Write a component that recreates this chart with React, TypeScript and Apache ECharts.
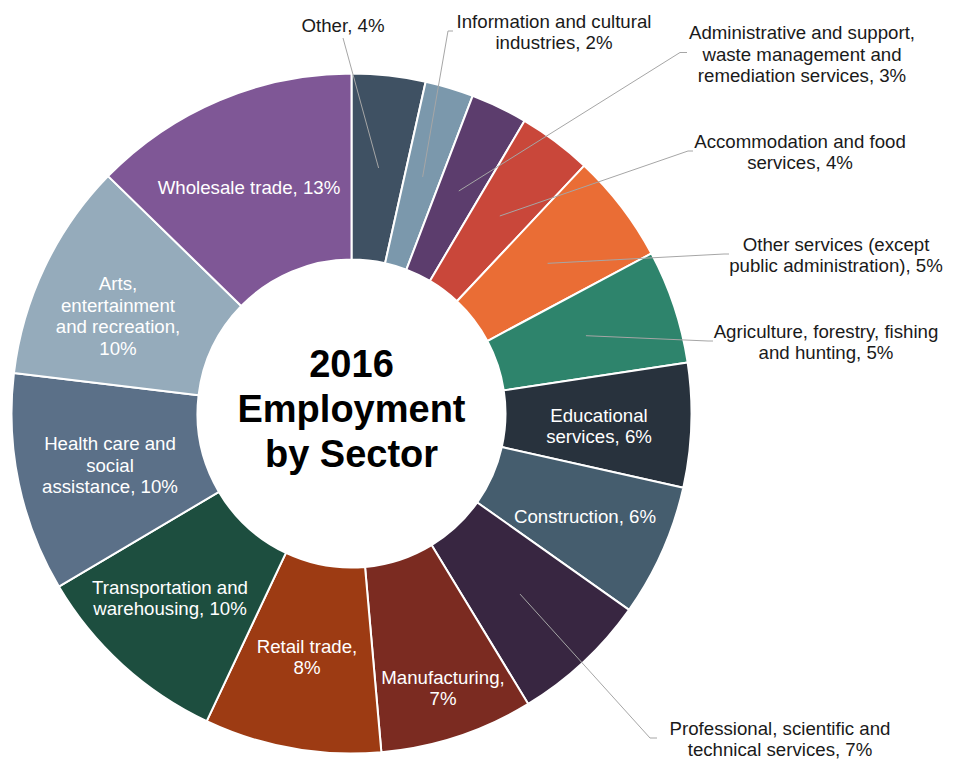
import React, { useEffect, useRef } from "react";
import * as echarts from "echarts";

// ---- data ----
const categories: string[] = [
  "Other",
  "Information and cultural industries",
  "Administrative and support, waste management and remediation services",
  "Accommodation and food services",
  "Other services (except public administration)",
  "Agriculture, forestry, fishing and hunting",
  "Educational services",
  "Construction",
  "Professional, scientific and technical services",
  "Manufacturing",
  "Retail trade",
  "Transportation and warehousing",
  "Health care and social assistance",
  "Arts, entertainment and recreation",
  "Wholesale trade",
];
const values: number[] = [3.5, 2.3, 2.7, 3.5, 5.2, 5.4, 5.9, 6.3, 6.5, 7.3, 8.4, 9.5, 10.4, 10.4, 12.7];

// label text with line breaks; {p} = rounded percent
const labelTemplates: string[] = [
  "Other, {p}%",
  "Information and cultural\nindustries, {p}%",
  "Administrative and support,\nwaste management and\nremediation services, {p}%",
  "Accommodation and food\nservices, {p}%",
  "Other services (except\npublic administration), {p}%",
  "Agriculture, forestry, fishing\nand hunting, {p}%",
  "Educational\nservices, {p}%",
  "Construction, {p}%",
  "Professional, scientific and\ntechnical services, {p}%",
  "Manufacturing,\n{p}%",
  "Retail trade,\n{p}%",
  "Transportation and\nwarehousing, {p}%",
  "Health care and\nsocial\nassistance, {p}%",
  "Arts,\nentertainment\nand recreation,\n{p}%",
  "Wholesale trade, {p}%",
];
const title = "2016\nEmployment\nby Sector";

// ---- styles / layout ----
const colors: string[] = [
  "#3F5163", "#7B98AC", "#5C3D6D", "#C9473A", "#EA6D35",
  "#2E846C", "#28323D", "#455D6E", "#382641", "#7B2B21",
  "#9D3B13", "#1D4E3F", "#5B7088", "#95ABBB", "#7F5796",
];
const outside: boolean[] = [true, true, true, true, true, true, false, false, true, false, false, false, false, false, false];
// label centres and leader-line end points (layout only)
const labelPos: { x: number; y: number; end?: number[][] }[] = [
  { x: 343, y: 25, end: [[343, 38], [343, 38]] },
  { x: 554, y: 32, end: [[448, 31], [453, 31]] },
  { x: 802, y: 54, end: [[680, 52.5], [687, 52.5]] },
  { x: 800, y: 152, end: [[688, 151], [693, 151]] },
  { x: 836, y: 255, end: [[724, 254], [729, 254]] },
  { x: 826, y: 342, end: [[708, 341], [713, 341]] },
  { x: 599, y: 426 },
  { x: 585, y: 516 },
  { x: 780, y: 739, end: [[650, 738], [657, 738]] },
  { x: 443, y: 688 },
  { x: 307, y: 657 },
  { x: 170, y: 598 },
  { x: 110, y: 465 },
  { x: 118, y: 316 },
  { x: 249, y: 187 },
];
const CX = 351.5;
const CY = 413.5;
const R0 = 154;
const R1 = 340;
const FONT = "'Liberation Sans', Arial, Helvetica, sans-serif";

export default function App() {
  const ref = useRef<HTMLDivElement>(null);
  useEffect(() => {
    document.body.style.margin = "0";
    if (!ref.current) return;
    const chart = echarts.init(ref.current, undefined, { renderer: "svg" });
    const total = values.reduce((a, b) => a + b, 0);
    const rMid = (R0 + R1) / 2;
    const midPoint = (i: number) => {
      let cum = 0;
      for (let j = 0; j < i; j++) cum += values[j];
      const a = ((cum + values[i] / 2) / total) * Math.PI * 2;
      return [CX + rMid * Math.sin(a), CY - rMid * Math.cos(a)];
    };
    const leaderLines: any[] = [];
    values.forEach((_, i) => {
      const lp = labelPos[i];
      if (outside[i] && lp.end) {
        leaderLines.push({
          type: "polyline",
          z: 100,
          silent: true,
          shape: { points: [midPoint(i), lp.end[0], lp.end[1]] },
          style: { stroke: "#A6A6A6", lineWidth: 1, fill: null },
        });
      }
    });
    chart.setOption({
      animation: false,
      backgroundColor: "#ffffff",
      graphic: [
        ...leaderLines,
        {
          type: "text",
          x: CX,
          y: CY - 5,
          z: 100,
          style: {
            text: title,
            fontSize: 38,
            fontWeight: "bold",
            fontFamily: FONT,
            fill: "#000000",
            align: "center",
            verticalAlign: "middle",
            textAlign: "center",
            textVerticalAlign: "middle",
            lineHeight: 45,
          },
        },
      ],
      series: [
        {
          type: "pie",
          center: [CX, CY],
          radius: [R0, R1],
          startAngle: 90,
          clockwise: true,
          avoidLabelOverlap: false,
          itemStyle: { borderColor: "#ffffff", borderWidth: 2 },
          label: {
            fontFamily: FONT,
            fontSize: 18.67,
            lineHeight: 21.5,
            align: "center",
            formatter: (p: any) =>
              labelTemplates[p.dataIndex].replace("{p}", String(Math.round(p.value))),
          },
          labelLine: { show: false },
          labelLayout: (params: any) => {
            const lp = labelPos[params.dataIndex];
            return { x: lp.x, y: lp.y, align: "center", verticalAlign: "middle" };
          },
          data: categories.map((name, i) => ({
            name,
            value: values[i],
            itemStyle: { color: colors[i] },
            label: outside[i]
              ? { position: "outside", color: "#1A1A1A" }
              : { position: "inside", color: "#FFFFFF" },
            labelLine: { show: false },
          })),
        },
      ],
    });
    return () => chart.dispose();
  }, []);
  return <div ref={ref} style={{ width: 979, height: 761 }} />;
}
